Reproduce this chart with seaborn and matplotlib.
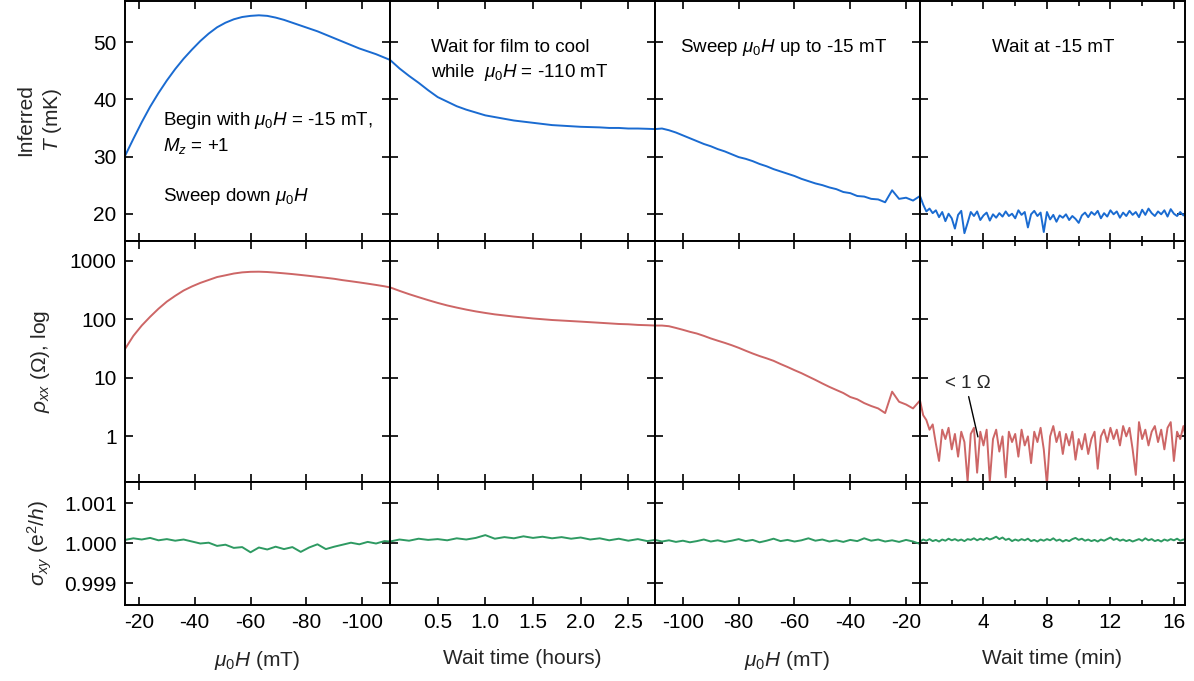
import matplotlib
matplotlib.use("Agg")
import matplotlib.pyplot as plt
import seaborn as sns
from matplotlib.ticker import NullLocator

# ---- values ----
# panel 1: sweep mu0H down from -15 to -110 mT
field_down = [-15, -18, -21, -24, -27, -30, -33, -36, -39, -42, -45, -48, -51, -54, -57,
              -60, -63, -66, -69, -72, -75, -78, -81, -84, -87, -90, -93, -96, -99,
              -102, -105, -108, -110]
temp_down = [30.1, 33.1, 36.0, 38.7, 41.1, 43.3, 45.3, 47.1, 48.7, 50.2, 51.5, 52.6, 53.4,
             54.0, 54.4, 54.6, 54.7, 54.6, 54.3, 53.9, 53.4, 52.9, 52.4, 51.9, 51.3, 50.7,
             50.1, 49.5, 48.9, 48.4, 47.9, 47.3, 46.9]
rho_down = [31, 52, 78, 110, 151, 200, 251, 309, 363, 417, 468, 525, 562, 603, 631, 645,
            648, 640, 625, 608, 590, 570, 550, 530, 510, 490, 465, 445, 425, 405, 385, 365, 350]
sigma_down = [1.00008, 1.00012, 1.00009, 1.00013, 1.00007, 1.00010, 1.00006, 1.00009,
              1.00004, 0.99999, 1.00001, 0.99993, 0.99996, 0.99988, 0.99990, 0.99977,
              0.99989, 0.99984, 0.99991, 0.99985, 0.99990, 0.99978, 0.99989, 0.99997,
              0.99985, 0.99991, 0.99996, 1.00001, 0.99997, 1.00003, 0.99999, 1.00005, 1.00004]

# panel 2: wait at -110 mT (hours)
wait_hours = [0.0, 0.1, 0.2, 0.3, 0.4, 0.5, 0.6, 0.7, 0.8, 0.9, 1.0, 1.1, 1.2, 1.3, 1.4,
              1.5, 1.6, 1.7, 1.8, 1.9, 2.0, 2.1, 2.2, 2.3, 2.4, 2.5, 2.6, 2.7, 2.78]
temp_cool = [46.9, 45.4, 44.1, 42.9, 41.6, 40.4, 39.6, 38.8, 38.2, 37.7, 37.2, 36.9, 36.6,
             36.3, 36.1, 35.9, 35.7, 35.5, 35.4, 35.3, 35.2, 35.15, 35.1, 35.0, 35.0, 34.9,
             34.9, 34.85, 34.8]
rho_cool = [350, 305, 268, 238, 212, 190, 172, 158, 146, 136, 128, 121, 116, 111, 107, 103,
            100, 97, 95, 93, 91, 89, 87, 85, 83, 82, 80, 79, 78]
sigma_cool = [1.00004, 1.00009, 1.00006, 1.00011, 1.00008, 1.00010, 1.00007, 1.00012,
              1.00009, 1.00013, 1.00020, 1.00011, 1.00015, 1.00012, 1.00017, 1.00013,
              1.00016, 1.00012, 1.00015, 1.00011, 1.00014, 1.00009, 1.00012, 1.00007,
              1.00011, 1.00006, 1.00010, 1.00005, 1.00008]

# panel 3: sweep mu0H up from -110 to -15 mT
field_up = [-110, -107.5, -105, -102.5, -100, -97.5, -95, -92.5, -90, -87.5, -85, -82.5,
            -80, -77.5, -75, -72.5, -70, -67.5, -65, -62.5, -60, -57.5, -55, -52.5, -50,
            -47.5, -45, -42.5, -40, -37.5, -35, -32.5, -30, -27.5, -25, -22.5, -20, -17.5, -15]
temp_up = [34.8, 34.9, 34.6, 34.2, 33.7, 33.2, 32.7, 32.2, 31.8, 31.3, 30.9, 30.4, 29.9,
           29.6, 29.2, 28.7, 28.3, 27.8, 27.4, 27.0, 26.6, 26.1, 25.7, 25.3, 25.0, 24.6,
           24.3, 23.8, 23.6, 23.1, 23.0, 22.6, 22.5, 22.0, 24.1, 22.6, 22.8, 22.3, 23.1]
rho_up = [78, 78, 76, 71, 66, 61, 57, 52, 47, 43, 39.5, 36, 32.5, 29, 26, 23.5, 21.5, 19.5,
          17.2, 15.3, 13.5, 12, 10.5, 9.2, 8.0, 7.0, 6.2, 5.5, 4.7, 4.3, 3.7, 3.3, 3.0, 2.5,
          5.8, 3.9, 3.5, 3.0, 4.1]
sigma_up = [1.00008, 1.00004, 1.00007, 1.00003, 1.00006, 1.00002, 1.00005, 1.00009, 1.00004,
            1.00007, 1.00003, 1.00006, 1.00010, 1.00005, 1.00008, 1.00002, 1.00006, 1.00011,
            1.00005, 1.00008, 1.00004, 1.00007, 1.00012, 1.00006, 1.00009, 1.00004, 1.00007,
            1.00003, 1.00008, 1.00005, 1.00012, 1.00006, 1.00009, 1.00004, 1.00007, 1.00003,
            1.00008, 1.00004, 0.99998]

# panel 4: wait at -15 mT (minutes)
wait_min = [0.0, 0.2, 0.4, 0.6, 0.8, 1.0, 1.2, 1.4, 1.6, 1.8, 2.0, 2.2, 2.4, 2.6, 2.8,
            3.0, 3.2, 3.4, 3.6, 3.8, 4.0, 4.2, 4.4, 4.6, 4.8, 5.0, 5.2, 5.4, 5.6, 5.8,
            6.0, 6.2, 6.4, 6.6, 6.8, 7.0, 7.2, 7.4, 7.6, 7.8, 8.0, 8.2, 8.4, 8.6, 8.8,
            9.0, 9.2, 9.4, 9.6, 9.8, 10.0, 10.2, 10.4, 10.6, 10.8, 11.0, 11.2, 11.4, 11.6,
            11.8, 12.0, 12.2, 12.4, 12.6, 12.8, 13.0, 13.2, 13.4, 13.6, 13.8, 14.0, 14.2,
            14.4, 14.6, 14.8, 15.0, 15.2, 15.4, 15.6, 15.8, 16.0, 16.2, 16.4, 16.6, 16.7]
temp_hold = [23.1, 21.6, 20.4, 20.9, 20.1, 20.6, 19.4, 20.3, 18.7, 20.0, 19.2, 17.4, 19.8,
             20.5, 16.6, 18.4, 20.3, 19.6, 20.4, 18.9, 19.7, 20.2, 18.8, 19.9, 19.3, 20.1,
             19.5, 20.4, 19.6, 20.0, 19.2, 20.6, 19.8, 20.3, 17.6, 19.9, 20.5, 19.6, 20.2,
             16.8, 20.3, 19.0, 19.8, 18.6, 19.7, 19.3, 19.9, 18.9, 19.6, 19.1, 18.4, 19.7,
             20.2, 19.4, 20.3, 19.8, 20.5, 19.2, 20.1, 19.5, 20.6, 19.9, 20.4, 19.3, 20.2,
             19.6, 20.5, 19.8, 20.3, 19.4, 20.7, 19.8, 20.9, 20.1, 19.6, 20.4, 19.9, 20.6,
             19.5, 20.8, 20.0, 19.6, 20.3, 19.7, 20.1]
rho_hold = [4.1, 2.3, 1.9, 1.3, 1.6, 0.75, 0.38, 1.3, 0.9, 1.4, 0.6, 1.1, 0.45, 1.2, 0.8,
            0.17, 1.1, 1.4, 0.24, 1.2, 0.7, 1.3, 0.17, 0.9, 1.3, 0.55, 1.0, 0.2, 1.2, 0.8,
            1.1, 0.45, 1.3, 0.7, 1.0, 0.35, 1.2, 0.8, 1.4, 0.6, 0.15, 1.0, 1.5, 0.8, 1.2,
            0.5, 1.1, 0.7, 1.2, 0.4, 0.9, 0.6, 1.1, 0.5, 0.9, 1.2, 0.28, 1.0, 1.3, 0.8,
            1.4, 0.9, 1.3, 0.7, 1.5, 1.0, 1.4, 0.6, 0.22, 1.75, 0.9, 1.3, 0.7, 1.2, 1.5,
            0.8, 1.3, 0.6, 1.4, 1.75, 0.38, 1.2, 0.9, 1.5, 1.1]
sigma_hold = [1.00004, 1.00009, 1.00006, 1.00010, 1.00005, 1.00008, 1.00004, 1.00009, 1.00006, 1.00011,
              1.00007, 1.00010, 1.00006, 1.00009, 1.00005, 1.00010, 1.00008, 1.00012, 1.00007, 1.00011,
              1.00008, 1.00013, 1.00009, 1.00012, 1.00016, 1.00010, 1.00014, 1.00008, 1.00011, 1.00005,
              1.00009, 1.00006, 1.00010, 1.00007, 1.00011, 1.00005, 1.00008, 1.00004, 1.00009, 1.00006,
              1.00010, 1.00007, 1.00012, 1.00006, 1.00009, 1.00004, 1.00008, 1.00005, 1.00010, 1.00013,
              1.00008, 1.00011, 1.00006, 1.00009, 1.00005, 1.00008, 1.00004, 1.00009, 1.00006, 1.00010,
              1.00014, 1.00008, 1.00011, 1.00006, 1.00009, 1.00005, 1.00008, 1.00004, 1.00007, 1.00010,
              1.00006, 1.00012, 1.00007, 1.00010, 1.00005, 1.00008, 1.00004, 1.00009, 1.00006, 1.00010,
              1.00007, 1.00011, 1.00006, 1.00009, 1.00008]

x_labels = [r"$\mu_0H$ (mT)", "Wait time (hours)", r"$\mu_0H$ (mT)", "Wait time (min)"]
y_labels = ["Inferred\n$T$ (mK)", r"$\rho_{xx}$ (Ω), log", r"$\sigma_{xy}$ (e$^2$/$h$)"]
row_colors = ["#1a6bd1", "#cd6666", "#2e9a62"]

sns.set_theme(style="ticks")
plt.rcParams.update({
    "font.family": ["Liberation Sans", "DejaVu Sans"],
    "mathtext.fontset": "custom",
    "mathtext.rm": "Liberation Sans",
    "mathtext.it": "Liberation Sans:italic",
    "axes.unicode_minus": False,
    "axes.linewidth": 1.4,
    "axes.edgecolor": "black",
})

columns = [
    (field_down, [temp_down, rho_down, sigma_down]),
    (wait_hours, [temp_cool, rho_cool, sigma_cool]),
    (field_up, [temp_up, rho_up, sigma_up]),
    (wait_min, [temp_hold, rho_hold, sigma_hold]),
]

fig, axes = plt.subplots(3, 4, figsize=(11.94, 6.81), dpi=100, sharex="col", sharey="row",
                         gridspec_kw={"height_ratios": [240, 242, 123]})
fig.subplots_adjust(left=125 / 1194, right=1185 / 1194, top=1 - 1 / 681,
                    bottom=1 - 605 / 681, wspace=0, hspace=0)

for c, (xs, rows) in enumerate(columns):
    for r, ys in enumerate(rows):
        ax = axes[r, c]
        sns.lineplot(x=xs, y=ys, ax=ax, color=row_colors[r], lw=1.4,
                     sort=False, estimator=None)
        ax.tick_params(which="both", direction="in", top=True, right=True,
                       width=1.2, labelsize=15, colors="black", pad=6)
        ax.tick_params(which="major", length=6)
        ax.tick_params(which="minor", length=3.5)

# y axes
axes[0, 0].set_ylim(15.3, 57.2)
axes[0, 0].set_yticks([20, 30, 40, 50])
axes[1, 0].set_yscale("log")
axes[1, 0].set_ylim(0.165, 2200)
axes[1, 0].set_yticks([1, 10, 100, 1000], labels=["1", "10", "100", "1000"])
axes[1, 0].yaxis.set_minor_locator(NullLocator())
axes[2, 0].set_ylim(0.99845, 1.001525)
axes[2, 0].set_yticks([0.999, 1.000, 1.001], labels=["0.999", "1.000", "1.001"])

# x axes
axes[2, 0].set_xlim(-15, -110)
axes[2, 0].set_xticks([-20, -40, -60, -80, -100])
axes[2, 1].set_xlim(0, 2.78)
axes[2, 1].set_xticks([0.5, 1.0, 1.5, 2.0, 2.5], labels=["0.5", "1.0", "1.5", "2.0", "2.5"])
axes[2, 2].set_xlim(-110, -15)
axes[2, 2].set_xticks([-100, -80, -60, -40, -20])
axes[2, 3].set_xlim(0, 16.7)
axes[2, 3].set_xticks([4, 8, 12, 16])
axes[2, 3].set_xticks([2, 6, 10, 14], minor=True)

for c in range(4):
    axes[2, c].set_xlabel(x_labels[c], fontsize=15)
    axes[2, c].xaxis.set_label_coords(0.5, -0.36)
    for r in range(3):
        axes[r, c].set_ylabel("")

ylabel_pos = [120, 361, 543]
for r in range(3):
    fig.text(40 / 1194, 1 - ylabel_pos[r] / 681, y_labels[r], rotation=90,
             ha="center", va="center", fontsize=15, multialignment="center",
             linespacing=1.3)

# annotations
txt = dict(fontsize=13.5, color="black")
a = axes[0, 0]
a.text(0.144, 0.50, r"Begin with $\mu_0H$ = -15 mT,", transform=a.transAxes, va="center", **txt)
a.text(0.144, 0.393, r"$M_z$ = +1", transform=a.transAxes, va="center", **txt)
a.text(0.144, 0.184, r"Sweep down $\mu_0H$", transform=a.transAxes, va="center", **txt)
a = axes[0, 1]
a.text(0.153, 0.808, "Wait for film to cool", transform=a.transAxes, va="center", **txt)
a.text(0.153, 0.703, r"while  $\mu_0H$ = -110 mT", transform=a.transAxes, va="center", **txt)
a = axes[0, 2]
a.text(0.096, 0.808, r"Sweep $\mu_0H$ up to -15 mT", transform=a.transAxes, va="center", **txt)
a = axes[0, 3]
a.text(0.504, 0.808, "Wait at -15 mT", transform=a.transAxes, va="center", ha="center", **txt)

axes[1, 3].annotate("< 1 Ω", xy=(3.65, 0.98), xytext=(3.0, 8.0), ha="center", va="center",
                    fontsize=13.5,
                    arrowprops=dict(arrowstyle="-", color="black", lw=1.0,
                                    relpos=(0.5, 0.0), shrinkA=1, shrinkB=0))

fig.savefig("out.png", dpi=100)
